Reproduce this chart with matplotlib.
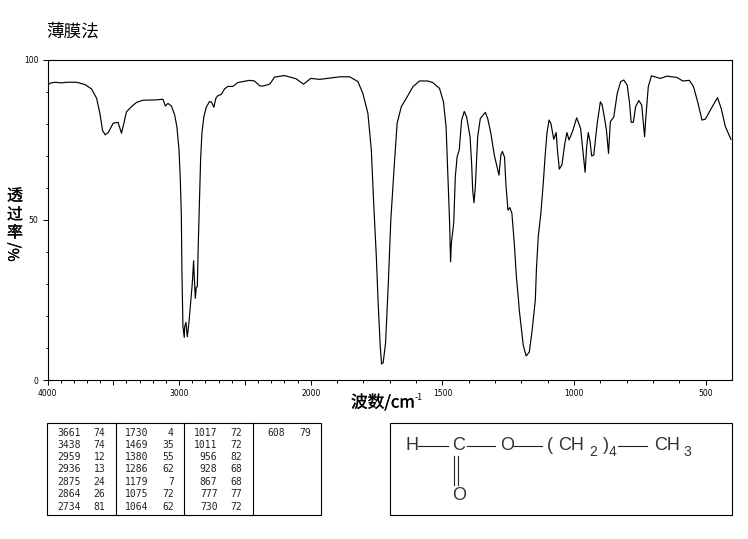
import matplotlib
matplotlib.use('Agg')
import matplotlib.pyplot as plt
import matplotlib.patheffects as pe
import numpy as np

plt.rcParams['font.family'] = ['Noto Sans CJK SC', 'DejaVu Sans']

# Spectrum
wavenumber = [3998, 3981, 3943, 3892, 3855, 3779, 3716, 3665, 3627, 3602, 3582, 3562, 3539, 3501, 3464, 3438,
              3420, 3400, 3362, 3324, 3274, 3173, 3123, 3105, 3085, 3059, 3034, 3017, 3001, 2991, 2983, 2979,
              2971, 2961, 2958, 2948, 2938, 2926, 2911, 2900, 2890, 2885, 2877, 2870, 2862, 2855, 2845, 2837,
              2827, 2812, 2794, 2769, 2754, 2736, 2721, 2706, 2680, 2655, 2630, 2592, 2555, 2466, 2428, 2385,
              2352, 2309, 2276, 2201, 2112, 2055, 2000, 1966, 1890, 1852, 1821, 1802, 1783, 1770, 1761, 1751,
              1744, 1736, 1731, 1725, 1716, 1706, 1696, 1684, 1672, 1656, 1637, 1612, 1587, 1556, 1537, 1511,
              1496, 1486, 1480, 1473, 1469, 1466, 1457, 1451, 1444, 1436, 1427, 1417, 1408, 1395, 1389, 1385,
              1380, 1375, 1366, 1356, 1337, 1328, 1316, 1303, 1294, 1285, 1278, 1272, 1264, 1259, 1251, 1244,
              1236, 1227, 1219, 1211, 1208, 1193, 1182, 1170, 1159, 1147, 1143, 1136, 1126, 1117, 1110, 1103,
              1095, 1088, 1077, 1068, 1063, 1056, 1046, 1035, 1027, 1019, 1006, 990, 975, 968, 958, 952,
              946, 939, 933, 925, 912, 900, 893, 883, 877, 869, 862, 849, 836, 823, 811, 798,
              789, 783, 775, 766, 754, 743, 732, 728, 718, 706, 672, 647, 609, 587, 562, 546,
              529, 514, 501, 479, 455, 441, 425, 404]
transmittance = [92.0, 92.6, 92.9, 92.7, 92.9, 92.9, 92.2, 90.8, 87.9, 83.2, 77.9, 76.5, 77.2, 80.1, 80.4, 77.0,
                 80.1, 83.7, 85.3, 86.6, 87.3, 87.4, 87.6, 85.5, 86.3, 85.5, 82.7, 79.0, 71.8, 62.4, 50.9, 34.3,
                 16.6, 13.3, 16.6, 18.0, 13.5, 17.7, 25.0, 30.2, 37.2, 32.2, 25.5, 28.9, 29.1, 41.6, 57.2, 68.6,
                 77.0, 82.2, 85.1, 86.9, 86.7, 85.1, 87.9, 88.7, 89.1, 90.8, 91.6, 91.6, 92.8, 93.5, 93.3, 91.7,
                 91.8, 92.4, 94.5, 95.0, 94.0, 92.3, 94.1, 93.8, 94.6, 94.6, 93.1, 89.4, 83.2, 71.8, 55.1, 38.5,
                 23.9, 10.4, 5.0, 5.4, 11.5, 29.1, 49.9, 65.5, 80.1, 85.3, 87.9, 91.5, 93.3, 93.3, 92.8, 91.0,
                 86.8, 79.0, 65.5, 49.9, 36.9, 42.7, 49.0, 63.4, 69.7, 71.8, 81.1, 83.8, 82.1, 75.9, 67.6, 59.3,
                 55.3, 60.3, 75.9, 81.6, 83.5, 81.6, 77.0, 70.2, 67.1, 63.9, 70.2, 71.3, 69.5, 61.3, 53.0, 53.8,
                 52.0, 42.6, 32.2, 25.0, 21.8, 10.9, 7.5, 8.7, 15.6, 25.0, 34.3, 44.7, 52.0, 61.3, 69.7, 77.0,
                 81.1, 80.1, 75.1, 77.2, 71.8, 65.8, 67.1, 73.8, 77.2, 74.9, 77.5, 81.8, 78.5, 72.8, 64.8, 72.8,
                 77.2, 74.3, 69.9, 70.2, 80.1, 86.8, 85.8, 81.1, 78.0, 70.7, 80.6, 82.1, 89.4, 93.1, 93.6, 92.0,
                 86.3, 80.4, 80.4, 85.3, 87.2, 85.8, 75.9, 81.1, 91.5, 94.9, 94.1, 94.8, 94.4, 93.3, 93.5, 91.5,
                 86.3, 81.1, 81.4, 84.7, 88.1, 84.7, 79.0, 75.1]

# Peak table, column by column
peak_wn = [[3661, 3438, 2959, 2936, 2875, 2864, 2734],
           [1730, 1469, 1380, 1286, 1179, 1075, 1064],
           [1017, 1011, 956, 928, 867, 777, 730],
           [608]]
peak_t = [[74, 74, 12, 13, 24, 26, 81],
          [4, 35, 55, 62, 7, 72, 62],
          [72, 72, 82, 68, 68, 77, 72],
          [79]]

x_major = [4000, 3500, 3000, 2500, 2000, 1500, 1000, 500]
x_labels = ['4000', '', '3000', '', '2000', '1500', '1000', '500']
x_minor = [w for w in range(3900, 2000, -100)] + [w for w in range(1900, 400, -100)]
y_major = [0, 50, 100]


# wavenumber axis is stretched x2 below 2000
def forward(w):
    w = np.asarray(w, dtype=float)
    return np.where(w >= 2000, w, 2000 - (2000 - w) * 2)


def inverse(u):
    u = np.asarray(u, dtype=float)
    return np.where(u >= 2000, u, 2000 - (2000 - u) / 2)


W, H = 748, 539
fig = plt.figure(figsize=(W / 100, H / 100), dpi=100)
ax = fig.add_axes([47.5 / W, 1 - 380 / H, 684.5 / W, 320.5 / H])
ax.set_xscale('function', functions=(forward, inverse))
ax.plot(wavenumber, transmittance, color='black', lw=0.85)
ax.set_xticks(x_major, x_labels, fontsize=5.5, family='DejaVu Sans')
ax.set_xticks(x_minor, minor=True)
ax.set_yticks(y_major, ['0', '50', '100'], fontsize=5.5, family='DejaVu Sans')
ax.set_yticks(np.arange(10, 100, 10), minor=True)
ax.set_xlim(4000, 400)
ax.set_ylim(0, 100)
ax.tick_params(which='major', length=3.6, width=0.7, pad=3)
ax.tick_params(which='minor', length=1.8, width=0.7)
for s in ax.spines.values():
    s.set_linewidth(0.8)

# overlay in pixel coordinates for the text and the two boxes under the plot
ov = fig.add_axes([0, 0, 1, 1])
ov.set_xlim(0, W)
ov.set_ylim(H, 0)
ov.axis('off')

heavy = [pe.withStroke(linewidth=0.2, foreground='black')]
ov.text(46, 32, '薄膜法', fontsize=12.7, va='center', ha='left')
for ch, y in zip('透过率', [196, 215, 233]):
    ov.text(15, y, ch, fontsize=11.5, va='center', ha='center', path_effects=heavy)
ov.text(15, 252, '%/', fontsize=10.5, va='center', ha='center', rotation=90, path_effects=heavy)
ov.text(351, 403, '波数/cm', fontsize=12, va='center', ha='left', path_effects=heavy)
ov.text(415, 398, '-1', fontsize=6.5, va='center', ha='left')

# peak table
ov.add_patch(plt.Rectangle((47.5, 423.3), 273.8, 91.7, fill=False, ec='black', lw=0.8))
for x in [116.4, 184.4, 253.4]:
    ov.plot([x, x], [423.3, 515], color='black', lw=0.8)
row_y = [432.7, 444.9, 457.2, 469.4, 481.7, 494, 506.6]
wn_right = [80.5, 148.5, 217.5, 285.2]
t_right = [105.2, 173.8, 242.5, 310.8]
for c in range(4):
    for r in range(len(peak_wn[c])):
        ov.text(wn_right[c], row_y[r], str(peak_wn[c][r]), fontsize=7, family='DejaVu Sans Mono',
                ha='right', va='center', color='#222222')
        ov.text(t_right[c], row_y[r], str(peak_t[c][r]), fontsize=7, family='DejaVu Sans Mono',
                ha='right', va='center', color='#222222')

# structure box
ov.add_patch(plt.Rectangle((390.3, 423.3), 342, 91.7, fill=False, ec='black', lw=0.8))
atoms = [(411.7, 446, 'H'), (459, 446, 'C'), (506.7, 446, 'O'), (550, 446, '('),
         (571, 446, 'CH'), (606, 446, ')'), (667, 446, 'CH'), (459, 496, 'O')]
for x, y, s in atoms:
    ov.text(x, y, s, fontsize=13, family='Liberation Sans', ha='center', va='center', color='#333333')
for x, y, s in [(593, 452, '2'), (613, 452, '4'), (687, 452, '3')]:
    ov.text(x, y, s, fontsize=10, family='Liberation Sans', ha='center', va='center', color='#333333')
for x0, x1 in [(418, 448), (467, 495), (513, 542), (618, 647)]:
    ov.plot([x0, x1], [446, 446], color='#222222', lw=0.8)
for x in [454.3, 458.3]:
    ov.plot([x, x], [456, 485], color='#222222', lw=0.8)

fig.savefig('out.png', dpi=100)
